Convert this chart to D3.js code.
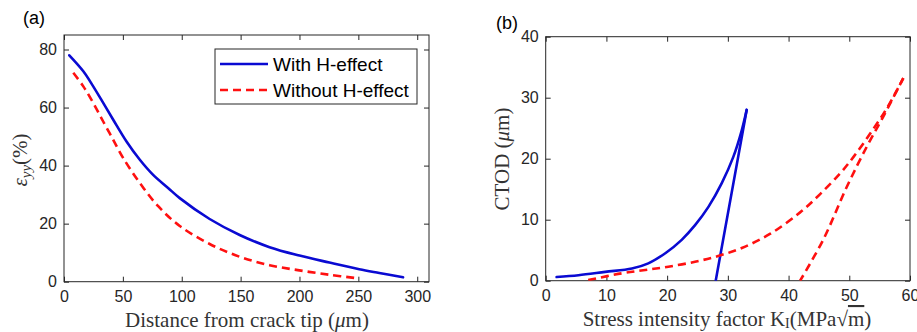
<!DOCTYPE html>
<html>
<head>
<meta charset="utf-8">
<script src="https://cdn.jsdelivr.net/npm/d3@7"></script>
<style>
  html, body { margin: 0; padding: 0; background: #fff; }
  svg { display: block; }
  .tick text { font-family: "Liberation Sans", Arial, sans-serif; font-size: 16px; fill: #262626; }
  .tick line { stroke: #262626; stroke-width: 1; }
</style>
</head>
<body>
<svg id="chart" width="917" height="332"></svg>
<script>
// (a) strain ahead of the crack tip
const distWith = [4.5, 16.4, 24.8, 33.3, 41.8, 53.1, 64.4, 75.7, 88.4, 98.3, 123.7, 149.2, 174.6, 200, 225.4, 250.8, 267.8, 288];
const epsWith  = [78, 72.5, 67.3, 61.6, 55.8, 48.3, 42.0, 36.8, 32.3, 28.8, 21.6, 16.1, 11.9, 9.0, 6.6, 4.3, 3.0, 1.5];
const distWithout = [7.9, 16.4, 24.8, 33.3, 41.8, 50.3, 64.4, 80, 98.3, 123.7, 149.2, 174.6, 200, 225.4, 249];
const epsWithout  = [72.0, 67.3, 61.6, 55.2, 48.9, 42.6, 34.0, 26.0, 19.2, 13.0, 8.6, 5.7, 3.9, 2.4, 1.2];
const xTicksA = [0, 50, 100, 150, 200, 250, 300];
const yTicksA = [0, 20, 40, 60, 80];

// (b) CTOD versus stress intensity factor: loading branch, then unloading branch
const kWithLoad    = [1.8, 5.4, 9.8, 14.2, 16.9, 19.7, 22.4, 24.6, 26.8, 29.0, 30.9, 32.3, 33.1];
const ctodWithLoad = [0.6, 0.9, 1.45, 2.0, 2.85, 4.5, 6.7, 9.1, 12.1, 16.0, 20.3, 24.7, 28.0];
const kWithUnload    = [33.1, 28.0];
const ctodWithUnload = [28.0, 0];
const kWithoutLoad    = [7.0, 12.5, 16.4, 20.2, 24.6, 28.4, 32.4, 37.0, 41.9, 45.2, 48.5, 50.7, 53.5, 56.2, 58.9];
const ctodWithoutLoad = [0.1, 1.2, 1.75, 2.3, 3.1, 4.05, 5.4, 7.7, 11.2, 14.2, 17.6, 20.3, 24.2, 28.3, 33.2];
const kWithoutUnload    = [58.9, 55.6, 52.9, 49.6, 45.7, 41.9];
const ctodWithoutUnload = [33.2, 26.9, 22.0, 15.4, 6.7, 0];
const xTicksB = [0, 10, 20, 30, 40, 50, 60];
const yTicksB = [0, 10, 20, 30, 40];

const legendLabels = ["With H-effect", "Without H-effect"];

const BLUE = "#0a0ad2", RED = "#ff1010", INK = "#262626";
const SMOOTH = d3.curveCatmullRom.alpha(0.5);
const svg = d3.select("#chart");

function panel(opts) {
  const x = d3.scaleLinear().domain(opts.xDomain).range(opts.xRange);
  const y = d3.scaleLinear().domain(opts.yDomain).range(opts.yRange);
  const g = svg.append("g");
  const [x0, x1] = opts.xRange, [y0, y1] = opts.yRange;

  // ticks on all four sides, pointing inward
  g.append("g").attr("transform", `translate(0,${y0})`)
    .call(d3.axisBottom(x).tickValues(opts.xTicks).tickSizeInner(-5).tickSizeOuter(0).tickPadding(9).tickFormat(d3.format("d")))
    .call(a => a.select(".domain").remove());
  g.append("g").attr("transform", `translate(0,${y1})`)
    .call(d3.axisTop(x).tickValues(opts.xTicks).tickSizeInner(-5).tickSizeOuter(0).tickFormat(""))
    .call(a => a.select(".domain").remove());
  g.append("g").attr("transform", `translate(${x0},0)`)
    .call(d3.axisLeft(y).tickValues(opts.yTicks).tickSizeInner(-5).tickSizeOuter(0).tickPadding(7).tickFormat(d3.format("d")))
    .call(a => a.select(".domain").remove());
  g.append("g").attr("transform", `translate(${x1},0)`)
    .call(d3.axisRight(y).tickValues(opts.yTicks).tickSizeInner(-5).tickSizeOuter(0).tickFormat(""))
    .call(a => a.select(".domain").remove());
  g.selectAll(".tick text").attr("font-family", null).attr("font-size", null).attr("fill", null);

  g.append("rect")
    .attr("x", x0).attr("y", y1).attr("width", x1 - x0).attr("height", y0 - y1)
    .attr("fill", "none").attr("stroke", INK).attr("stroke-width", 1);

  const clipId = "clip" + opts.id;
  svg.append("clipPath").attr("id", clipId).append("rect")
    .attr("x", x0).attr("y", y1 - 2).attr("width", x1 - x0 + 2).attr("height", y0 - y1 + 2);

  const plot = g.append("g").attr("clip-path", `url(#${clipId})`);
  const line = d3.line().x(d => x(d[0])).y(d => y(d[1]));
  opts.series.forEach(s => {
    const pts = s.xs.map((v, i) => [v, s.ys[i]]);
    const path = plot.append("path")
      .attr("d", line.curve(s.curve || SMOOTH)(pts))
      .attr("fill", "none").attr("stroke", s.color).attr("stroke-width", 2.6)
      .attr("stroke-linejoin", "round").attr("stroke-linecap", s.dash ? "butt" : "round");
    if (s.dash) path.attr("stroke-dasharray", s.dash);
  });
  return { x, y, g };
}

// ---- panel (a)
panel({
  id: "a",
  xDomain: [0, 310], xRange: [64, 429],
  yDomain: [0, 85], yRange: [281.7, 35],
  xTicks: xTicksA, yTicks: yTicksA,
  series: [
    { xs: distWith, ys: epsWith, color: BLUE },
    { xs: distWithout, ys: epsWithout, color: RED, dash: "8,5" }
  ]
});

// ---- panel (b)
panel({
  id: "b",
  xDomain: [0, 60], xRange: [545.7, 910],
  yDomain: [0, 40], yRange: [280.7, 36.7],
  xTicks: xTicksB, yTicks: yTicksB,
  series: [
    { xs: kWithLoad, ys: ctodWithLoad, color: BLUE },
    { xs: kWithUnload, ys: ctodWithUnload, color: BLUE, curve: d3.curveLinear },
    { xs: kWithoutLoad, ys: ctodWithoutLoad, color: RED, dash: "8,5" },
    { xs: kWithoutUnload, ys: ctodWithoutUnload, color: RED, dash: "8,5" }
  ]
});

// ---- legend in (a)
const leg = svg.append("g");
leg.append("rect").attr("x", 215).attr("y", 49).attr("width", 202).attr("height", 55)
  .attr("fill", "#fff").attr("stroke", INK).attr("stroke-width", 1);
legendLabels.forEach((lab, i) => {
  const yy = 64 + i * 26;
  const ln = leg.append("line").attr("x1", 220).attr("x2", 268).attr("y1", yy).attr("y2", yy)
    .attr("stroke", i === 0 ? BLUE : RED).attr("stroke-width", 2.6);
  if (i === 1) ln.attr("stroke-dasharray", "8,5");
  leg.append("text").attr("x", 273).attr("y", yy + 7)
    .attr("font-family", "Liberation Sans, Arial, sans-serif").attr("font-size", 19)
    .attr("fill", "#000").text(lab);
});

// ---- panel tags
svg.append("text").attr("x", 23).attr("y", 24).attr("font-family", "Liberation Sans, Arial, sans-serif")
  .attr("font-size", 18).attr("fill", "#000").text("(a)");
svg.append("text").attr("x", 496).attr("y", 29).attr("font-family", "Liberation Sans, Arial, sans-serif")
  .attr("font-size", 18).attr("fill", "#000").text("(b)");

// ---- axis titles (serif, math style)
const SERIF = "Liberation Serif, Times New Roman, serif";
const tA = svg.append("text").attr("x", 247).attr("y", 327).attr("text-anchor", "middle")
  .attr("font-family", SERIF).attr("font-size", 21).attr("fill", "#333");
tA.append("tspan").text("Distance from crack tip (");
tA.append("tspan").attr("font-style", "italic").text("μ");
tA.append("tspan").text("m)");

const yA = svg.append("text").attr("transform", "translate(27,160) rotate(-90)").attr("text-anchor", "middle")
  .attr("font-family", SERIF).attr("font-size", 21).attr("fill", "#333");
yA.append("tspan").attr("font-style", "italic").text("ε");
yA.append("tspan").attr("font-style", "italic").attr("font-size", 15).attr("dy", 4).text("yy");
yA.append("tspan").attr("dy", -4).text("(%)");

const tB = svg.append("text").attr("x", 727).attr("y", 326).attr("text-anchor", "middle")
  .attr("font-family", SERIF).attr("font-size", 21).attr("fill", "#333");
tB.append("tspan").text("Stress intensity factor K");
tB.append("tspan").attr("font-size", 14).attr("dy", 2).text("I");
tB.append("tspan").attr("dy", -2).text("(MPa");
tB.append("tspan").text("√");
tB.append("tspan").attr("text-decoration", "overline").text("m");
tB.append("tspan").text(")");

const yBt = svg.append("text").attr("transform", "translate(509,159) rotate(-90)").attr("text-anchor", "middle")
  .attr("font-family", SERIF).attr("font-size", 21).attr("fill", "#333");
yBt.append("tspan").text("CTOD (");
yBt.append("tspan").attr("font-style", "italic").text("μ");
yBt.append("tspan").text("m)");
</script>
</body>
</html>
